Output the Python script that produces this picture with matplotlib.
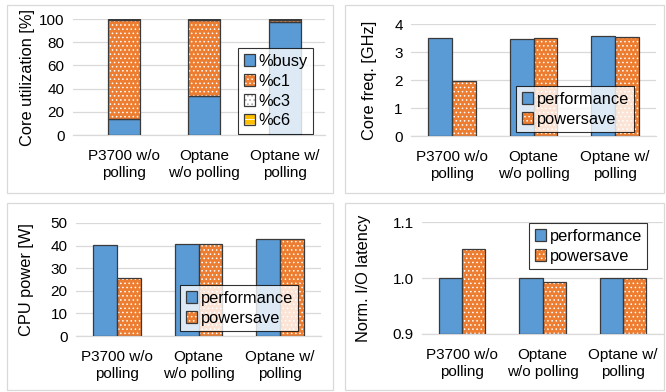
import matplotlib
matplotlib.use('Agg')
import matplotlib.pyplot as plt
from matplotlib.patches import Rectangle, Patch

plt.rcParams['font.family'] = ['Liberation Sans', 'DejaVu Sans']
plt.rcParams['font.size'] = 11
plt.rcParams['hatch.linewidth'] = 0.6

# data
configs = ['P3700 w/o\npolling', 'Optane\nw/o polling', 'Optane w/\npolling']
busy = [13.5, 34.0, 97.5]
c1 = [86.0, 65.0, 1.5]
c3 = [0.3, 0.5, 0.5]
c6 = [0.2, 0.3, 0.5]

modes = ['performance', 'powersave']
freq_perf = [3.50, 3.45, 3.56]
freq_save = [1.95, 3.50, 3.53]
power_perf = [40.3, 40.7, 43.0]
power_save = [25.8, 40.9, 43.0]
lat_perf = [1.0, 1.0, 1.0]
lat_save = [1.052, 0.993, 1.0]

BLUE = '#5B9BD5'
ORANGE = '#ED7D31'
YELLOW = '#FFC000'
EDGE = '#3a3a3a'
GRID = '#D9D9D9'
DOTS = '....'

W, H = 666, 392
fig = plt.figure(figsize=(W / 100, H / 100), dpi=100)


def px_axes(x0, x1, ytop, ybot):
    ax = fig.add_axes([x0 / W, 1 - ybot / H, (x1 - x0) / W, (ybot - ytop) / H])
    ax._px = (x0, x1)
    return ax


def hatched_bar(ax, x, h, w, color, hatch, bottom=0, hcol='white'):
    ax.bar(x, h, w, bottom=bottom, color=color, edgecolor=hcol, hatch=hatch, linewidth=0, zorder=2)
    ax.bar(x, h, w, bottom=bottom, fill=False, edgecolor=EDGE, linewidth=0.9, zorder=3)


def plain_bar(ax, x, h, w, color, bottom=0):
    ax.bar(x, h, w, bottom=bottom, color=color, edgecolor=EDGE, linewidth=0.9, zorder=3)


def style(ax, ylabel, label_x):
    for s in ['top', 'right', 'left']:
        ax.spines[s].set_visible(False)
    ax.spines['bottom'].set_color(GRID)
    ax.spines['bottom'].set_linewidth(0.9)
    ax.grid(axis='y', color=GRID, linewidth=0.9, zorder=0)
    ax.set_axisbelow(True)
    ax.tick_params(axis='x', length=0, pad=10, labelsize=11)
    ax.tick_params(axis='y', length=0, pad=6, labelsize=11)
    ax.set_xticks(range(len(configs)))
    ax.set_xticklabels(configs, linespacing=1.3)
    ax.set_ylabel(ylabel, fontsize=11.8)
    x0, x1 = ax._px
    ax.yaxis.set_label_coords((label_x - x0) / (x1 - x0), 0.5)


def legend_handle(color, hatch, hcol='white'):
    return (Patch(facecolor=color, edgecolor=hcol, hatch=hatch, linewidth=0),
            Patch(facecolor='none', edgecolor=EDGE, linewidth=0.9))


def add_legend(ax, handles, labels, x, y):
    leg = ax.legend(handles, labels, loc='upper left', bbox_to_anchor=(x / W, 1 - y / H),
                    bbox_transform=fig.transFigure, borderaxespad=0, fancybox=False,
                    handlelength=0.7, handleheight=0.7, handletextpad=0.2,
                    labelspacing=0.3, borderpad=0.35, fontsize=11.8)
    leg.get_frame().set_edgecolor('black')
    leg.get_frame().set_linewidth(0.8)
    leg.set_zorder(5)


# panel borders
for (x0, y0, x1, y1) in [(7, 5, 333, 193), (345, 5, 664, 193),
                         (7, 203, 333, 390), (345, 203, 664, 390)]:
    fig.patches.append(Rectangle((x0 / W, 1 - y1 / H), (x1 - x0) / W, (y1 - y0) / H,
                                 transform=fig.transFigure, fill=False,
                                 edgecolor=GRID, linewidth=0.9))

xs = list(range(len(configs)))
bw = 0.29

# core utilization
ax1 = px_axes(73, 325, 19, 135)
bw1 = 0.4
plain_bar(ax1, xs, busy, bw1, BLUE)
bot = busy[:]
hatched_bar(ax1, xs, c1, bw1, ORANGE, DOTS, bottom=bot)
bot = [b + c for b, c in zip(bot, c1)]
hatched_bar(ax1, xs, c3, bw1, 'white', DOTS, bottom=bot, hcol='#A5A5A5')
bot = [b + c for b, c in zip(bot, c3)]
hatched_bar(ax1, xs, c6, bw1, YELLOW, '---', bottom=bot)
ax1.set_ylim(0, 100)
ax1.set_xlim(-0.63, 2.5)
ax1.set_yticks([0, 20, 40, 60, 80, 100])
style(ax1, 'Core utilization [%]', 35)
add_legend(ax1,
           [(Patch(facecolor=BLUE, edgecolor=EDGE, linewidth=0.9),),
            legend_handle(ORANGE, DOTS),
            legend_handle('white', DOTS, '#A5A5A5'),
            legend_handle(YELLOW, '---')],
           ['%busy', '%c1', '%c3', '%c6'], 238, 48)


def pair_panel(ax, perf, save, bottom, lx, ly):
    pb = [bottom] * len(perf)
    plain_bar(ax, [x - bw / 2 for x in xs], [v - bottom for v in perf], bw, BLUE, bottom=pb)
    hatched_bar(ax, [x + bw / 2 for x in xs], [v - bottom for v in save], bw, ORANGE, DOTS, bottom=pb)
    ax.set_xlim(-0.5, 2.5)
    add_legend(ax,
               [(Patch(facecolor=BLUE, edgecolor=EDGE, linewidth=0.9),),
                legend_handle(ORANGE, DOTS)],
               modes, lx, ly)


# core frequency
ax2 = px_axes(411, 656, 24, 136)
pair_panel(ax2, freq_perf, freq_save, 0, 516, 86)
ax2.set_ylim(0, 4)
ax2.set_yticks([0, 1, 2, 3, 4])
style(ax2, 'Core freq. [GHz]', 377)

# cpu power
ax3 = px_axes(76, 321, 223, 336)
pair_panel(ax3, power_perf, power_save, 0, 180, 285)
ax3.set_ylim(0, 50)
ax3.set_yticks([0, 10, 20, 30, 40, 50])
style(ax3, 'CPU power [W]', 34)

# normalized latency
ax4 = px_axes(422, 663, 222, 334)
pair_panel(ax4, lat_perf, lat_save, 0.9, 529, 223)
ax4.set_ylim(0.9, 1.1)
ax4.set_yticks([0.9, 1.0, 1.1])
ax4.set_yticklabels(['0.9', '1.0', '1.1'])
style(ax4, 'Norm. I/O latency', 371)

fig.savefig('out.png', dpi=100)
